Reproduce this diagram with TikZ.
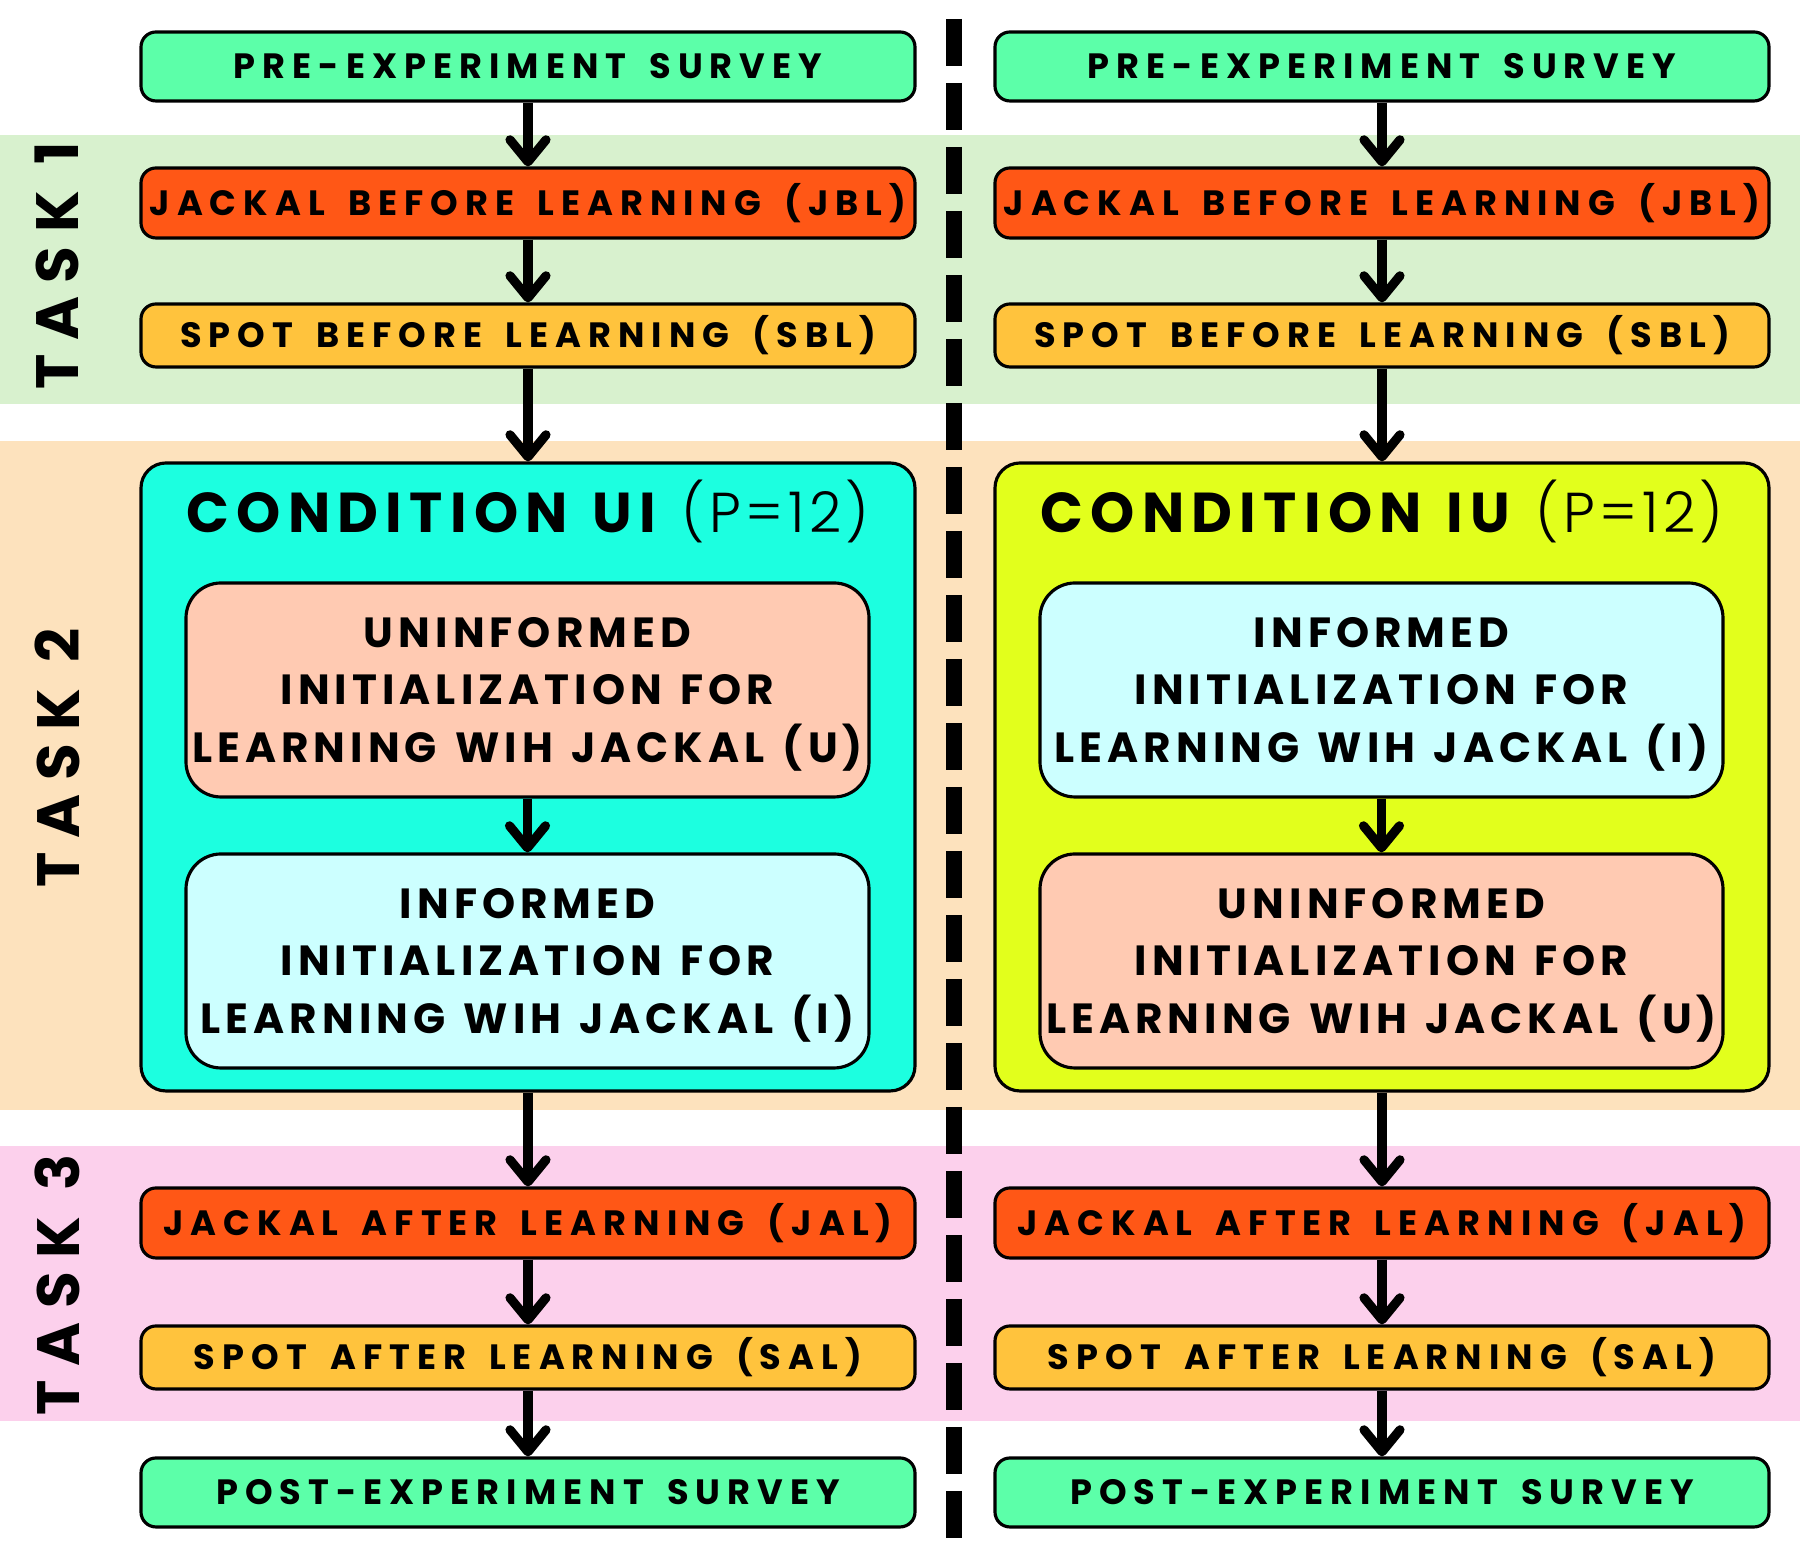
\documentclass[tikz,border=0pt]{standalone}
\usepackage{fontspec}
\setmainfont{Poppins}
\newfontfamily\boxfont[LetterSpace=20,WordSpace=1.6]{Poppins}
\newfontfamily\subfont[LetterSpace=12,WordSpace=1.3]{Poppins}
\newfontfamily\ttlfont[LetterSpace=13,WordSpace=1.3]{Poppins}
\newfontfamily\lightfont[LetterSpace=8]{Poppins Light}
\newfontfamily\taskfont[LetterSpace=23]{Poppins}
\usetikzlibrary{arrows.meta}
\definecolor{survey}{HTML}{5CFFA9}
\definecolor{jackal}{HTML}{FF5716}
\definecolor{spot}{HTML}{FFC33D}
\definecolor{bandone}{HTML}{D8F1CE}
\definecolor{bandtwo}{HTML}{FDE2BD}
\definecolor{bandthree}{HTML}{FCD0EC}
\definecolor{condui}{HTML}{1CFFE0}
\definecolor{condiu}{HTML}{E2FF1C}
\definecolor{uninf}{HTML}{FFCAB2}
\definecolor{inf}{HTML}{CCFFFF}

\begin{document}
\begin{tikzpicture}[>={Straight Barb[length=2.2mm,width=3.6mm,line cap=round,line join=round]}]
        \tikzset{
          blk/.style ={draw, line width=0.9pt, rounded corners=1.5mm, minimum width=7.74cm, inner sep=0pt, align=center, font=\boxfont\bfseries\fontsize{10}{12}\selectfont},
          cond/.style={draw, line width=0.9pt, rounded corners=2.5mm, minimum width=7.74cm, minimum height=6.28cm},
          sub/.style ={draw, line width=0.9pt, rounded corners=3.5mm, minimum width=6.83cm, minimum height=2.14cm, inner sep=0pt, text depth=0pt, align=center, font=\subfont\bfseries\fontsize{12}{16.3}\selectfont},
          ttl/.style ={font=\ttlfont\bfseries\fontsize{16}{19}\selectfont},
          task/.style={rotate=90, font=\taskfont\bfseries\fontsize{17}{20}\selectfont},
          flow/.style={->, line width=2.6pt}
        }
        \useasboundingbox (0,0) rectangle (18,15.59);
        %% --- Bandas de tareas ---
        \fill[bandone]   (0,14.24) rectangle (18,11.55);
        \fill[bandtwo]   (0,11.18) rectangle (18,4.49);
        \fill[bandthree] (0,4.13)  rectangle (18,1.38);
        \node[task] (t1) at (0.57,12.93) {TASK 1};
        \node[task] (t2) at (0.57,8.01)  {TASK 2};
        \node[task] (t3) at (0.57,2.74)  {TASK 3};
        %% --- Separador ---
        \coordinate (sepA) at (9.54,15.40);
        \coordinate (sepB) at (9.54,0.20);
        \draw[line width=1.6mm, dash pattern=on 4.7mm off 1.7mm] (sepA) -- (sepB);
        %% --- Condicion UI (x=5.28) ---
        \node[blk, fill=survey, minimum height=0.69cm] (preL) at (5.28,14.925) {PRE-EXPERIMENT SURVEY};
        \node[blk, fill=jackal, minimum height=0.70cm] (jblL) at (5.28,13.56)  {JACKAL BEFORE LEARNING (JBL)};
        \node[blk, fill=spot,   minimum height=0.63cm] (sblL) at (5.28,12.235) {SPOT BEFORE LEARNING (SBL)};
        \node[cond, fill=condui] (condL) at (5.28,7.82) {};
        \node[ttl] (ttlL) at (5.28,10.48) {CONDITION UI {\lightfont\mdseries(P=12)}};
        \node[sub, fill=uninf] (aL) at (5.275,8.69) {UNINFORMED\\INITIALIZATION FOR\\LEARNING WIH JACKAL (U)};
        \node[sub, fill=inf]   (bL) at (5.275,5.98) {INFORMED\\INITIALIZATION FOR\\LEARNING WIH JACKAL (I)};
        \node[blk, fill=jackal, minimum height=0.70cm] (jalL)  at (5.28,3.36)  {JACKAL AFTER LEARNING (JAL)};
        \node[blk, fill=spot,   minimum height=0.63cm] (salL)  at (5.28,2.015) {SPOT AFTER LEARNING (SAL)};
        \node[blk, fill=survey, minimum height=0.69cm] (postL) at (5.28,0.665) {POST-EXPERIMENT SURVEY};
        \draw[flow] (preL)--(jblL);
        \draw[flow] (jblL)--(sblL);
        \draw[flow] (sblL)--(condL);
        \draw[flow] (aL)--(bL);
        \draw[flow] (condL)--(jalL);
        \draw[flow] (jalL)--(salL);
        \draw[flow] (salL)--(postL);
        %% --- Condicion IU (x=13.82) ---
        \node[blk, fill=survey, minimum height=0.69cm] (preR) at (13.82,14.925) {PRE-EXPERIMENT SURVEY};
        \node[blk, fill=jackal, minimum height=0.70cm] (jblR) at (13.82,13.56)  {JACKAL BEFORE LEARNING (JBL)};
        \node[blk, fill=spot,   minimum height=0.63cm] (sblR) at (13.82,12.235) {SPOT BEFORE LEARNING (SBL)};
        \node[cond, fill=condiu] (condR) at (13.82,7.82) {};
        \node[ttl] (ttlR) at (13.82,10.48) {CONDITION IU {\lightfont\mdseries(P=12)}};
        \node[sub, fill=inf]   (aR) at (13.815,8.69) {INFORMED\\INITIALIZATION FOR\\LEARNING WIH JACKAL (I)};
        \node[sub, fill=uninf] (bR) at (13.815,5.98) {UNINFORMED\\INITIALIZATION FOR\\LEARNING WIH JACKAL (U)};
        \node[blk, fill=jackal, minimum height=0.70cm] (jalR)  at (13.82,3.36)  {JACKAL AFTER LEARNING (JAL)};
        \node[blk, fill=spot,   minimum height=0.63cm] (salR)  at (13.82,2.015) {SPOT AFTER LEARNING (SAL)};
        \node[blk, fill=survey, minimum height=0.69cm] (postR) at (13.82,0.665) {POST-EXPERIMENT SURVEY};
        \draw[flow] (preR)--(jblR);
        \draw[flow] (jblR)--(sblR);
        \draw[flow] (sblR)--(condR);
        \draw[flow] (aR)--(bR);
        \draw[flow] (condR)--(jalR);
        \draw[flow] (jalR)--(salR);
        \draw[flow] (salR)--(postR);
    \end{tikzpicture}
\end{document}
